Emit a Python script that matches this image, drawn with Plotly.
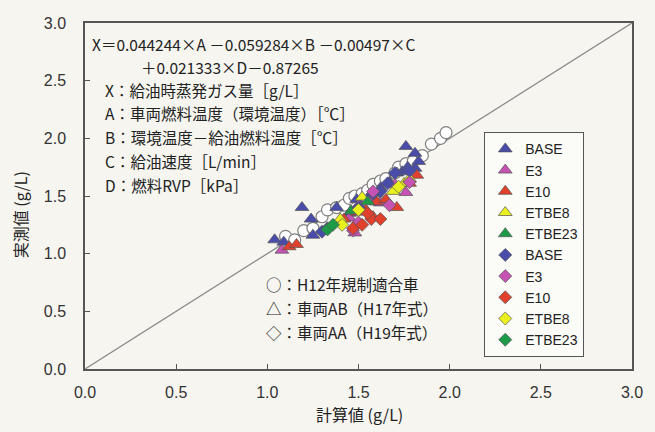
import plotly.graph_objects as go

# ---------------- data ----------------
circ_x = [1.10, 1.15, 1.20, 1.25, 1.30, 1.33, 1.38, 1.42, 1.45, 1.48, 1.52, 1.55, 1.58, 1.62,
          1.65, 1.70, 1.72, 1.76, 1.80, 1.85, 1.90, 1.95, 1.98]
circ_y = [1.15, 1.12, 1.20, 1.22, 1.32, 1.38, 1.40, 1.42, 1.48, 1.50, 1.52, 1.55, 1.60, 1.63,
          1.65, 1.70, 1.75, 1.78, 1.80, 1.85, 1.95, 2.00, 2.05]

fuels = ["BASE", "E3", "E10", "ETBE8", "ETBE23"]
colors = ["#4a4caa", "#c553b4", "#e0402c", "#e9f01e", "#1c9a48"]

tri_x = {
    "BASE":   [1.04, 1.09, 1.19, 1.24, 1.25, 1.38, 1.45, 1.49, 1.56, 1.62, 1.67, 1.71, 1.74, 1.77, 1.81, 1.76, 1.81, 1.83],
    "E3":     [1.08, 1.45, 1.48, 1.50, 1.57, 1.62, 1.76, 1.70],
    "E10":    [1.12, 1.16, 1.42, 1.49, 1.54, 1.58, 1.60, 1.65, 1.71, 1.78, 1.82],
    "ETBE8":  [1.40, 1.52, 1.60, 1.69, 1.75, 1.78],
    "ETBE23": [1.46, 1.55],
}
tri_y = {
    "BASE":   [1.12, 1.10, 1.40, 1.30, 1.16, 1.40, 1.35, 1.47, 1.50, 1.57, 1.62, 1.70, 1.71, 1.75, 1.74, 1.93, 1.87, 1.80],
    "E3":     [1.03, 1.31, 1.18, 1.42, 1.48, 1.44, 1.53, 1.60],
    "E10":    [1.06, 1.08, 1.30, 1.36, 1.38, 1.32, 1.45, 1.47, 1.40, 1.61, 1.68],
    "ETBE8":  [1.30, 1.49, 1.52, 1.54, 1.61, 1.65],
    "ETBE23": [1.37, 1.45],
}
dia_x = {
    "BASE":   [1.30, 1.33, 1.50, 1.58, 1.62, 1.66, 1.70, 1.78],
    "E3":     [1.47, 1.50, 1.58, 1.67, 1.78],
    "E10":    [1.47, 1.52, 1.57, 1.62, 1.55],
    "ETBE8":  [1.41, 1.50, 1.72],
    "ETBE23": [1.33, 1.36],
}
dia_y = {
    "BASE":   [1.19, 1.22, 1.40, 1.52, 1.54, 1.61, 1.70, 1.72],
    "E3":     [1.20, 1.27, 1.54, 1.42, 1.62],
    "E10":    [1.22, 1.25, 1.30, 1.30, 1.35],
    "ETBE8":  [1.25, 1.38, 1.58],
    "ETBE23": [1.21, 1.25],
}

diag = [0.0, 3.0]
ticks = [0.0, 0.5, 1.0, 1.5, 2.0, 2.5, 3.0]
tick_text = ["0.0", "0.5", "1.0", "1.5", "2.0", "2.5", "3.0"]

eq_lines = [
    "X＝0.044244×A －0.059284×B －0.00497×C",
    "＋0.021333×D－0.87265",
    "X：給油時蒸発ガス量［g/L］",
    "A：車両燃料温度（環境温度）［℃］",
    "B：環境温度－給油燃料温度［℃］",
    "C：給油速度［L/min］",
    "D：燃料RVP［kPa］",
]
type_lines = ["○：H12年規制適合車", "△：車両AB（H17年式）", "◇：車両AA（H19年式）"]

# ---------------- figure ----------------
W, H = 655, 432
ML, MR, MT, MB = 85, 12, 23, 63
PW, PH = W - ML - MR, H - MT - MB
CJK = "Noto Sans CJK JP, sans-serif"
NUM = "Liberation Sans Narrow, Arial Narrow, Liberation Sans, sans-serif"
BG = "#f6f5f0"

fig = go.Figure()
fig.add_trace(go.Scatter(x=diag, y=diag, mode="lines", line=dict(color="#8a8a8a", width=1.3),
                         showlegend=False, hoverinfo="skip"))
fig.add_trace(go.Scatter(x=circ_x, y=circ_y, mode="markers", showlegend=False,
                         marker=dict(symbol="circle", size=12, color="white",
                                     line=dict(color="#808080", width=1.2))))
for f, c in zip(fuels, colors):
    fig.add_trace(go.Scatter(x=tri_x[f], y=tri_y[f], mode="markers", name=f,
                             marker=dict(symbol="triangle-up", size=12, color=c,
                                         line=dict(color="#555555", width=0.7))))
for f, c in zip(fuels, colors):
    fig.add_trace(go.Scatter(x=dia_x[f], y=dia_y[f], mode="markers", name=f,
                             marker=dict(symbol="diamond", size=10, color=c,
                                         line=dict(color="#555555", width=0.7))))

def px2x(p):
    return (p - ML) / PW

def py2y(p):
    return (H - MB - p) / PH

ann = []
eq_pos = [(90, 44), (140, 67), (103, 90), (103, 113), (103, 137), (103, 161), (103, 185)]
for t, (x, y) in zip(eq_lines, eq_pos):
    ann.append(dict(text=t, x=px2x(x), y=py2y(y), xref="paper", yref="paper",
                    xanchor="left", yanchor="middle", showarrow=False,
                    font=dict(family=CJK, size=15.5, color="#222")))
for i, t in enumerate(type_lines):
    ann.append(dict(text=t, x=px2x(268), y=py2y(284 + 24 * i), xref="paper", yref="paper",
                    xanchor="left", yanchor="middle", showarrow=False,
                    font=dict(family=CJK, size=15.5, color="#222")))
ann.append(dict(text="計算値 (g/L)", x=px2x(365), y=py2y(414), xref="paper", yref="paper",
                xanchor="center", yanchor="middle", showarrow=False,
                font=dict(family=CJK, size=16, color="#222")))
ann.append(dict(text="実測値 (g/L)", x=px2x(19), y=py2y(215), xref="paper", yref="paper",
                xanchor="center", yanchor="middle", showarrow=False, textangle=-90,
                font=dict(family=CJK, size=16, color="#222")))

axis_common = dict(range=[0, 3], tickvals=ticks, ticktext=tick_text, ticks="inside",
                   ticklen=5, tickcolor="#555", showgrid=False, zeroline=False,
                   showline=True, mirror=True, linecolor="#555", linewidth=1.5,
                   tickfont=dict(family=NUM, size=16, color="#333"))

fig.update_layout(
    width=W, height=H, margin=dict(l=ML, r=MR, t=MT, b=MB),
    paper_bgcolor=BG, plot_bgcolor=BG,
    xaxis=dict(**axis_common, ticklabelstandoff=8),
    yaxis=dict(**axis_common, ticklabelstandoff=14),
    annotations=ann,
    legend=dict(x=px2x(492), y=py2y(132), xanchor="left", yanchor="top",
                bgcolor="#fbfbf8", bordercolor="#555", borderwidth=1.3,
                font=dict(family="Liberation Sans, Arial, sans-serif", size=14, color="#222"),
                tracegroupgap=0, itemwidth=30),
    showlegend=True,
)

fig.write_html("out.html")
